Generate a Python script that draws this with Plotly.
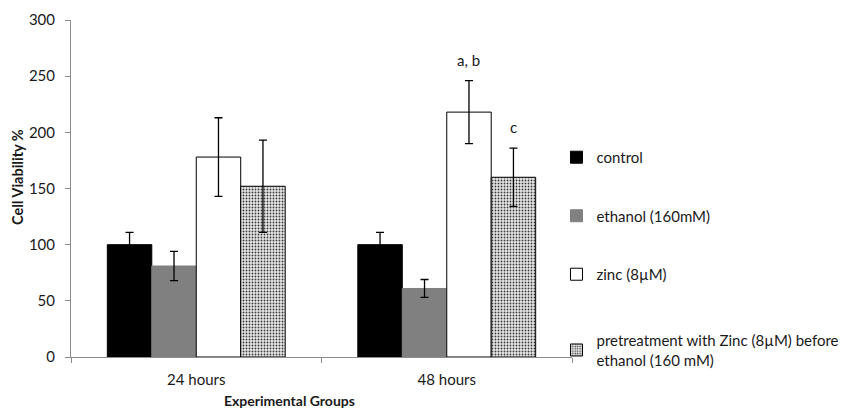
import plotly.graph_objects as go

categories = ["24 hours", "48 hours"]
series_names = ["control", "ethanol (160mM)", "zinc (8µM)",
                "pretreatment with Zinc (8µM) before<br>ethanol (160 mM)"]
values = {
    "control": [100, 100],
    "ethanol": [81, 61],
    "zinc": [178, 218],
    "pretreat": [152, 160],
}
errors = {
    "control": [11, 11],
    "ethanol": [13, 8],
    "zinc": [35, 28],
    "pretreat": [41, 26],
}
sig_labels = [("zinc", "a, b"), ("pretreat", "c")]

keys = ["control", "ethanol", "zinc", "pretreat"]
colors = {"control": "#000000", "ethanol": "#808080", "zinc": "#ffffff", "pretreat": "#d9d9d9"}
lines = {"control": "#000000", "ethanol": "#808080", "zinc": "#000000", "pretreat": "#000000"}
legend_of = {"control": "legend", "ethanol": "legend", "zinc": "legend", "pretreat": "legend2"}

FONT = "Lato"
TXT = "#1a1a1a"
fig = go.Figure()
for i, k in enumerate(keys):
    marker = dict(color=colors[k], line=dict(color=lines[k], width=1))
    if k == "pretreat":
        marker["pattern"] = dict(shape=".", fgcolor="#3a3a3a", bgcolor="#e8e8e8",
                                 size=3, solidity=0.3, fillmode="replace")
    fig.add_trace(go.Bar(
        x=categories, y=values[k], name=series_names[i], marker=marker,
        error_y=dict(type="data", array=errors[k], color="#000000", thickness=1.3, width=4),
        legendgroup=k, legend=legend_of[k],
    ))

bargap = 0.29
w = (1 - bargap) / 4
for k, txt in sig_labels:
    idx = keys.index(k)
    offset = (idx - 1.5) * w
    top = values[k][1] + errors[k][1]
    fig.add_annotation(x=1 + offset, y=top, text=txt, showarrow=False,
                       yanchor="bottom", yshift=10, font=dict(family=FONT, size=15, color=TXT))

# axis titles (placed like the original)
fig.add_annotation(text="<b>Experimental Groups</b>", xref="paper", yref="paper",
                   x=0.437, y=0, yshift=-43, showarrow=False, yanchor="middle",
                   font=dict(family=FONT, size=14, color=TXT))
fig.add_annotation(text="<b>Cell Viability %</b>", xref="paper", yref="paper",
                   x=0, xshift=-54, y=0.534, textangle=-90, showarrow=False,
                   xanchor="center", yanchor="middle",
                   font=dict(family=FONT, size=14.5, color=TXT))

leg_common = dict(xanchor="left", yanchor="top", tracegroupgap=36, traceorder="grouped",
                  itemwidth=30, bgcolor="rgba(0,0,0,0)",
                  font=dict(family=FONT, size=15, color=TXT))
fig.update_layout(
    width=838, height=401,
    margin=dict(l=63, r=274, t=12, b=52, autoexpand=False),
    barmode="group", bargap=bargap, bargroupgap=0,
    plot_bgcolor="white", paper_bgcolor="white",
    font=dict(family=FONT, size=15, color=TXT),
    legend=dict(x=0.969, y=0.641, **leg_common),
    legend2=dict(x=0.969, y=0.098, **leg_common),
    showlegend=True,
)
fig.update_xaxes(
    showline=True, linecolor="#8c8c8c", linewidth=1,
    ticks="outside", tickson="boundaries", tickcolor="#8c8c8c", ticklen=5,
    ticklabelstandoff=9,
    tickfont=dict(family=FONT, size=15, color=TXT),
)
fig.update_yaxes(
    range=[0, 300], dtick=50, showgrid=False, zeroline=False,
    showline=True, linecolor="#8c8c8c", linewidth=1,
    ticks="outside", tickcolor="#8c8c8c", ticklen=5,
    ticklabelstandoff=7,
    tickfont=dict(family=FONT, size=15, color=TXT),
)

fig.write_html("out.html")
